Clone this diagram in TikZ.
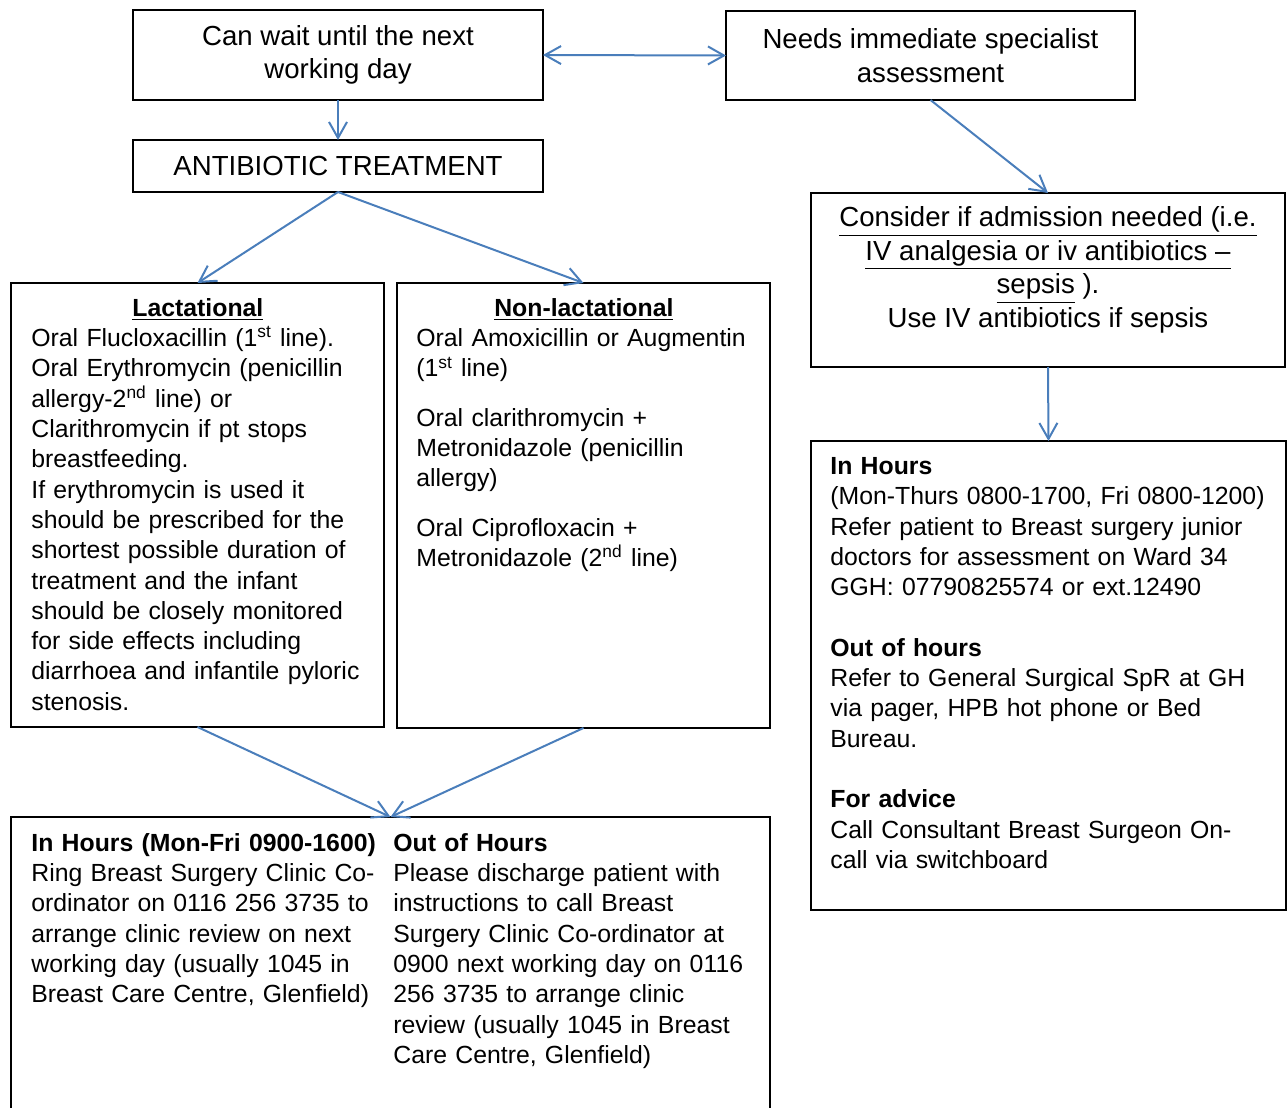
\documentclass[tikz,border=0pt]{standalone}
\usepackage{fontspec}
\setmainfont{Liberation Sans}
\usetikzlibrary{arrows.meta,positioning}

\definecolor{linkblue}{RGB}{74,126,187}
\newcommand\flowbigfont{\fontsize{13.8}{16.8}\selectfont}
\newcommand\flowbodyfont{\fontsize{12.4}{15.15}\selectfont}

\tikzset{
  flowbox/.style={draw=black, line width=1pt, rectangle, inner sep=0pt, outer sep=0pt, align=center, font=\flowbigfont},
  bodytext/.style={anchor=north west, inner sep=0pt, align=left, font=\flowbodyfont},
  flowarrow/.style={draw=linkblue, line width=1pt, -{Straight Barb[length=8pt,width=9pt]}}
}

\begin{document}
\begin{tikzpicture}[x=0.5pt,y=-0.5pt]
\useasboundingbox (0,0) rectangle (1287,1108);

% boxes
\node[flowbox, minimum width=205pt, minimum height=45pt] (wait) at (338,55) {Can wait until the next\\working day};
\node[flowbox, minimum width=204.5pt, minimum height=44.5pt] (urgent) at (930.5,55.5) {Needs immediate specialist\\assessment};
\node[flowbox, minimum width=205pt, minimum height=26pt] (abx) at (338,166) {ANTIBIOTIC TREATMENT};
\node[flowbox, minimum width=237pt, minimum height=87pt] (admit) at (1048,280) {};
\node[flowbox, minimum width=186.5pt, minimum height=222pt] (lac) at (197.5,505) {};
\node[flowbox, minimum width=186.5pt, minimum height=222.5pt] (nonlac) at (583.5,505.5) {};
\node[flowbox, minimum width=237.5pt, minimum height=234.5pt] (hours) at (1048.5,675.5) {};
\node[flowbox, minimum width=379.5pt, minimum height=161.5pt] (review) at (390.5,978.5) {};

% texts
\node[anchor=north, inner sep=0pt, align=center, font=\flowbigfont] (admittxt) at (1048,206)
  {\underline{Consider if admission needed (i.e.}\\
   \underline{IV analgesia or iv antibiotics –}\\
   \underline{sepsis} ).\\
   Use IV antibiotics if sepsis};

\node[bodytext, text width=200pt] (lactxt) at (31,298)
  {\makebox[166.5pt]{\underline{\textbf{Lactational}}}\\
   Oral Flucloxacillin (1\textsuperscript{st} line).\\
   Oral Erythromycin (penicillin\\
   allergy-2\textsuperscript{nd} line) or\\
   Clarithromycin if pt stops\\
   breastfeeding.\\
   If erythromycin is used it\\
   should be prescribed for the\\
   shortest possible duration of\\
   treatment and the infant\\
   should be closely monitored\\
   for side effects including\\
   diarrhoea and infantile pyloric\\
   stenosis.};

\node[bodytext, text width=200pt] (nonlactxt) at (416,298)
  {\makebox[167.5pt]{\underline{\textbf{Non-lactational}}}\\
   Oral Amoxicillin or Augmentin\\
   (1\textsuperscript{st} line)\\[9.5pt]
   Oral clarithromycin +\\
   Metronidazole (penicillin\\
   allergy)\\[9.5pt]
   Oral Ciprofloxacin +\\
   Metronidazole (2\textsuperscript{nd} line)};

\node[bodytext, text width=240pt] (hourstxt) at (830,457)
  {\textbf{In Hours}\\
   (Mon-Thurs 0800-1700, Fri 0800-1200)\\
   Refer patient to Breast surgery junior\\
   doctors for assessment on Ward 34\\
   GGH: 07790825574 or ext.12490\\[15.15pt]
   \textbf{Out of hours}\\
   Refer to General Surgical SpR at GH\\
   via pager, HPB hot phone or Bed\\
   Bureau.\\[15.15pt]
   \textbf{For advice}\\
   Call Consultant Breast Surgeon On-\\
   call via switchboard};

\node[bodytext, text width=200pt] (inhourstxt) at (31,833)
  {\textbf{In Hours (Mon-Fri 0900-1600)}\\
   Ring Breast Surgery Clinic Co-\\
   ordinator on 0116 256 3735 to\\
   arrange clinic review on next\\
   working day (usually 1045 in\\
   Breast Care Centre, Glenfield)};

\node[bodytext, text width=200pt] (outhourstxt) at (393,833)
  {\textbf{Out of Hours}\\
   Please discharge patient with\\
   instructions to call Breast\\
   Surgery Clinic Co-ordinator at\\
   0900 next working day on 0116\\
   256 3735 to arrange clinic\\
   review (usually 1045 in Breast\\
   Care Centre, Glenfield)};

% connectors
\draw[flowarrow, {Straight Barb[length=8pt,width=9pt]}-{Straight Barb[length=8pt,width=9pt]}] (wait.east) -- (urgent.west);
\draw[flowarrow] (wait.south) -- (abx.north);
\draw[flowarrow] (abx.south) -- (lac.north);
\draw[flowarrow] (abx.south) -- (nonlac.north);
\draw[flowarrow] (urgent.south) -- (admit.north);
\draw[flowarrow] (admit.south) -- (hours.north);
\draw[flowarrow] (lac.south) -- (review.north);
\draw[flowarrow] (nonlac.south) -- (review.north);
\end{tikzpicture}
\end{document}
